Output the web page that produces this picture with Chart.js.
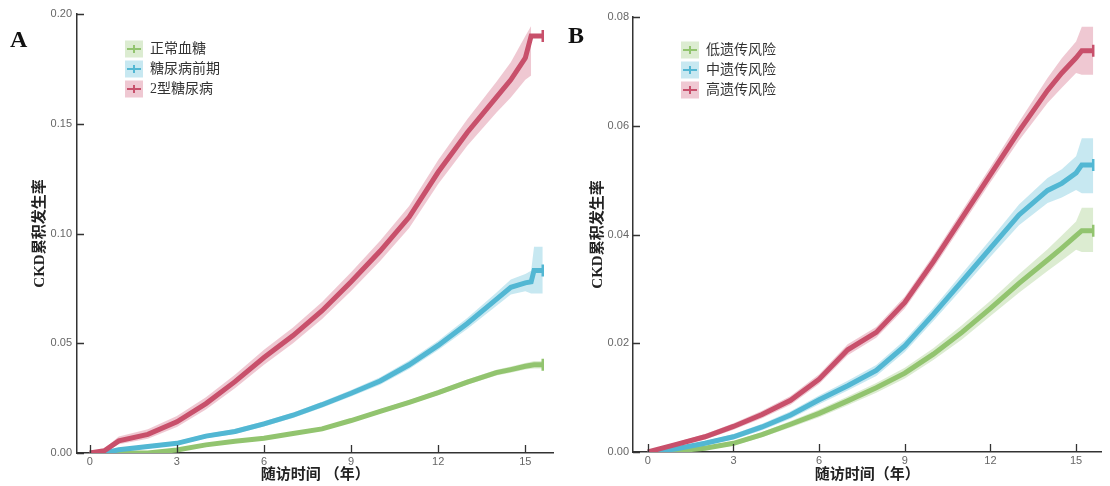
<!DOCTYPE html>
<html lang="zh">
<head>
    <meta charset="UTF-8">
    <title>CKD累积发生率</title>
    <script src="https://cdn.jsdelivr.net/npm/chart.js"></script>
    <style>
        body {
            margin: 0;
            background: #fff;
        }

        .wrap {
            position: relative;
            width: 1110px;
            height: 486px;
        }

        canvas {
            position: absolute;
            top: 0;
        }

        .panel-label {
            position: absolute;
            font-family: "Liberation Serif", "DejaVu Serif", serif;
            font-weight: bold;
            font-size: 24px;
            line-height: 24px;
            color: #111;
        }
    </style>
</head>
<body>
    <div class="wrap">
        <canvas id="chartA" width="562" height="486" style="left:0"></canvas>
        <canvas id="chartB" width="548" height="486" style="left:562px"></canvas>
        <div class="panel-label" style="left:10px; top:27px">A</div>
        <div class="panel-label" style="left:568px; top:23px">B</div>
    </div>

    <script>
        // ---- panel A: glycaemic status ----
        const timesA = [0, 0.5, 1, 2, 3, 4, 5, 6, 7, 8, 9, 10, 11, 12, 13, 14, 14.5, 15, 15.2, 15.3, 15.6];
        const labelsA = ['正常血糖', '糖尿病前期', '2型糖尿病'];

        const normalA   = [0, 0, 0, 0, 0.0014, 0.0037, 0.0054, 0.0067, 0.0089, 0.0110, 0.0148, 0.0190, 0.0231, 0.0275, 0.0323, 0.0366, 0.0380, 0.0395, 0.0400, 0.0402, 0.0402];
        const normalLoA = [0, 0, 0, 0, 0.0010, 0.0032, 0.0049, 0.0061, 0.0083, 0.0103, 0.0140, 0.0181, 0.0221, 0.0264, 0.0311, 0.0353, 0.0366, 0.0380, 0.0384, 0.0385, 0.0385];
        const normalHiA = [0, 0, 0, 0.0002, 0.0018, 0.0042, 0.0059, 0.0073, 0.0095, 0.0117, 0.0156, 0.0199, 0.0241, 0.0286, 0.0335, 0.0379, 0.0394, 0.0410, 0.0416, 0.0419, 0.0419];

        const preA   = [0, 0, 0.0015, 0.0030, 0.0044, 0.0077, 0.0098, 0.0133, 0.0172, 0.0220, 0.0272, 0.0328, 0.0402, 0.0490, 0.0590, 0.0700, 0.0755, 0.0775, 0.0780, 0.0832, 0.0832];
        const preLoA = [0, 0, 0.0008, 0.0021, 0.0035, 0.0067, 0.0087, 0.0121, 0.0159, 0.0206, 0.0257, 0.0311, 0.0383, 0.0469, 0.0565, 0.0670, 0.0722, 0.0737, 0.0727, 0.0727, 0.0727];
        const preHiA = [0, 0.0005, 0.0022, 0.0039, 0.0053, 0.0087, 0.0109, 0.0145, 0.0185, 0.0234, 0.0287, 0.0345, 0.0421, 0.0511, 0.0615, 0.0730, 0.0790, 0.0815, 0.0830, 0.0940, 0.0940];

        const t2dA   = [0, 0.0010, 0.0055, 0.0085, 0.0142, 0.0225, 0.0325, 0.0435, 0.0535, 0.0648, 0.0780, 0.0920, 0.1075, 0.1280, 0.1460, 0.1620, 0.1700, 0.1800, 0.1900, 0.1900, 0.1900];
        const t2dLoA = [0, 0, 0.0040, 0.0065, 0.0118, 0.0198, 0.0295, 0.0402, 0.0500, 0.0610, 0.0738, 0.0875, 0.1025, 0.1225, 0.1400, 0.1550, 0.1620, 0.1700, 0.1720, null, null];
        const t2dHiA = [0, 0.0020, 0.0075, 0.0108, 0.0168, 0.0254, 0.0357, 0.0470, 0.0572, 0.0688, 0.0824, 0.0967, 0.1125, 0.1335, 0.1520, 0.1690, 0.1780, 0.1900, 0.1945, null, null];

        // ---- panel B: genetic risk ----
        const timesB = [0, 0.5, 1, 2, 3, 4, 5, 6, 7, 8, 9, 10, 11, 12, 13, 14, 14.5, 15, 15.2, 15.6];
        const labelsB = ['低遗传风险', '中遗传风险', '高遗传风险'];

        const lowB   = [0, 0, 0.0002, 0.0007, 0.0016, 0.0032, 0.0051, 0.0071, 0.0094, 0.0118, 0.0145, 0.0180, 0.0220, 0.0264, 0.0310, 0.0353, 0.0375, 0.0398, 0.0407, 0.0407];
        const lowLoB = [0, 0, 0, 0.0004, 0.0012, 0.0027, 0.0045, 0.0064, 0.0086, 0.0109, 0.0135, 0.0169, 0.0207, 0.0250, 0.0293, 0.0333, 0.0352, 0.0372, 0.0368, 0.0368];
        const lowHiB = [0, 0.0001, 0.0004, 0.0010, 0.0020, 0.0037, 0.0057, 0.0078, 0.0102, 0.0127, 0.0155, 0.0191, 0.0233, 0.0278, 0.0327, 0.0373, 0.0398, 0.0424, 0.0449, 0.0449];

        const midB   = [0, 0.0002, 0.0006, 0.0016, 0.0028, 0.0046, 0.0068, 0.0096, 0.0122, 0.0150, 0.0195, 0.0253, 0.0314, 0.0375, 0.0436, 0.0481, 0.0494, 0.0513, 0.0528, 0.0528];
        const midLoB = [0, 0, 0.0003, 0.0012, 0.0023, 0.0040, 0.0061, 0.0088, 0.0113, 0.0140, 0.0184, 0.0241, 0.0300, 0.0359, 0.0417, 0.0458, 0.0468, 0.0482, 0.0476, 0.0476];
        const midHiB = [0, 0.0004, 0.0009, 0.0020, 0.0033, 0.0052, 0.0075, 0.0104, 0.0131, 0.0160, 0.0206, 0.0265, 0.0328, 0.0391, 0.0455, 0.0504, 0.0520, 0.0544, 0.0577, 0.0577];

        const highB   = [0, 0.0007, 0.0014, 0.0028, 0.0047, 0.0069, 0.0095, 0.0134, 0.0188, 0.0220, 0.0275, 0.0350, 0.0430, 0.0510, 0.0590, 0.0665, 0.0697, 0.0725, 0.0738, 0.0738];
        const highLoB = [0, 0.0004, 0.0010, 0.0023, 0.0041, 0.0062, 0.0087, 0.0125, 0.0178, 0.0210, 0.0264, 0.0338, 0.0417, 0.0496, 0.0573, 0.0642, 0.0670, 0.0697, 0.0694, 0.0694];
        const highHiB = [0, 0.0010, 0.0018, 0.0033, 0.0053, 0.0076, 0.0103, 0.0143, 0.0198, 0.0230, 0.0286, 0.0362, 0.0443, 0.0524, 0.0607, 0.0688, 0.0724, 0.0755, 0.0782, 0.0782];

        // ---- axes ----
        const xTicks = [0, 3, 6, 9, 12, 15];
        const yTicksA = [0, 0.05, 0.10, 0.15, 0.20];
        const yTicksB = [0, 0.02, 0.04, 0.06, 0.08];
        const yTitle = 'CKD累积发生率';

        const GREEN = { line: '#92C46F', band: 'rgba(146,196,111,0.32)' };
        const BLUE = { line: '#52B7D3', band: 'rgba(82,183,211,0.32)' };
        const RED = { line: '#C8506B', band: 'rgba(205,85,115,0.32)' };

        const pts = (times, vals) => times.map((t, i) => ({ x: t, y: vals[i] }));

        const buildDatasets = (times, groups) => {
            const ds = [];
            // confidence bands first (drawn underneath)
            groups.forEach(g => {
                const hiIdx = ds.length;
                ds.push({
                    data: pts(times, g.hi), borderColor: 'rgba(0,0,0,0)', borderWidth: 0,
                    pointRadius: 0, fill: false, order: 10
                });
                ds.push({
                    data: pts(times, g.lo), borderColor: 'rgba(0,0,0,0)', borderWidth: 0,
                    pointRadius: 0, backgroundColor: g.band, fill: { target: hiIdx }, order: 10
                });
            });
            groups.forEach((g, gi) => {
                ds.push({
                    label: g.label,
                    data: pts(times, g.est),
                    borderColor: g.line,
                    borderWidth: 5,
                    fill: false,
                    order: groups.length - gi,
                    pointStyle: 'line',
                    rotation: 90,
                    pointRadius: times.map((t, i) => i === times.length - 1 ? 6 : 0),
                    pointBorderWidth: 2.5,
                    pointBorderColor: g.line
                });
            });
            return ds;
        };

        // ticks drawn inward from the axis lines
        const insideTicks = {
            id: 'insideTicks',
            afterDraw(chart) {
                const { ctx, chartArea } = chart;
                const { x, y } = chart.scales;
                ctx.save();
                ctx.strokeStyle = '#333';
                ctx.lineWidth = 1.3;
                ctx.beginPath();
                x.ticks.forEach(t => {
                    const px = Math.round(x.getPixelForValue(t.value)) + 0.5;
                    ctx.moveTo(px, chartArea.bottom);
                    ctx.lineTo(px, chartArea.bottom - 8);
                });
                y.ticks.forEach(t => {
                    const py = Math.round(y.getPixelForValue(t.value)) + 0.5;
                    ctx.moveTo(chartArea.left, py);
                    ctx.lineTo(chartArea.left + 7, py);
                });
                ctx.stroke();
                ctx.restore();
            }
        };

        // legend placed inside the plot area
        const insideLegend = {
            id: 'insideLegend',
            afterDraw(chart, args, opts) {
                const ctx = chart.ctx;
                const lines = chart.data.datasets.filter(d => d.label);
                ctx.save();
                lines.forEach((d, i) => {
                    const cy = opts.top + i * opts.gap;
                    const lx = opts.left;
                    ctx.fillStyle = opts.bands[i];
                    ctx.fillRect(lx, cy - 8.5, 18, 17);
                    ctx.strokeStyle = d.borderColor;
                    ctx.lineWidth = 2;
                    ctx.beginPath();
                    ctx.moveTo(lx + 2, cy);
                    ctx.lineTo(lx + 16, cy);
                    ctx.moveTo(lx + 9, cy - 4);
                    ctx.lineTo(lx + 9, cy + 4);
                    ctx.stroke();
                    ctx.fillStyle = '#333';
                    ctx.font = '14px "Liberation Serif", "Noto Sans CJK SC", serif';
                    ctx.textBaseline = 'middle';
                    ctx.textAlign = 'left';
                    ctx.fillText(d.label, lx + 25, cy);
                });
                ctx.restore();
            }
        };

        const tickFont = { family: '"Liberation Sans", Arial, sans-serif', size: 11 };
        const titleFont = { family: '"Liberation Serif", "Noto Sans CJK SC", serif', size: 15, weight: 'bold' };

        const createChart = (id, cfg) => {
            return new Chart(document.getElementById(id), {
                type: 'line',
                data: { datasets: buildDatasets(cfg.times, cfg.groups) },
                options: {
                    responsive: false,
                    animation: false,
                    events: [],
                    devicePixelRatio: 1,
                    layout: { padding: { left: 0, right: cfg.padRight, top: cfg.padTop, bottom: 0 } },
                    elements: { line: { tension: 0 } },
                    plugins: {
                        legend: { display: false },
                        tooltip: { enabled: false },
                        insideLegend: { left: cfg.legendLeft, top: cfg.legendTop, gap: 20, bands: cfg.groups.map(g => g.band) }
                    },
                    scales: {
                        x: {
                            type: 'linear',
                            min: cfg.xMin,
                            max: cfg.xMax,
                            afterFit: s => { s.height = cfg.xHeight; },
                            afterBuildTicks: s => { s.ticks = xTicks.map(v => ({ value: v })); },
                            ticks: { font: tickFont, color: '#666', padding: 2, callback: v => String(v) },
                            grid: { drawOnChartArea: false, drawTicks: false },
                            border: { color: '#333', width: 1.5 },
                            title: { display: true, text: cfg.xTitle, font: titleFont, color: '#222', padding: { top: 0, bottom: 2 } }
                        },
                        y: {
                            type: 'linear',
                            min: cfg.yTicks[0],
                            max: cfg.yTicks[cfg.yTicks.length - 1],
                            afterFit: s => { s.width = cfg.yWidth; },
                            afterBuildTicks: s => { s.ticks = cfg.yTicks.map(v => ({ value: v })); },
                            ticks: { font: tickFont, color: '#666', padding: cfg.yPad, callback: v => v.toFixed(2) },
                            grid: { drawOnChartArea: false, drawTicks: false },
                            border: { color: '#333', width: 1.5 },
                            title: { display: true, text: yTitle, font: titleFont, color: '#222', padding: { top: cfg.yTitlePad, bottom: 0 } }
                        }
                    }
                },
                plugins: [insideTicks, insideLegend]
            });
        };

        createChart('chartA', {
            times: timesA,
            groups: [
                { label: labelsA[0], est: normalA, lo: normalLoA, hi: normalHiA, ...GREEN },
                { label: labelsA[1], est: preA, lo: preLoA, hi: preHiA, ...BLUE },
                { label: labelsA[2], est: t2dA, lo: t2dLoA, hi: t2dHiA, ...RED }
            ],
            yTicks: yTicksA,
            xMin: -0.44, xMax: 15.97,
            padTop: 14, padRight: 2,
            xHeight: 33, yWidth: 77, yPad: 5, yTitlePad: 31,
            xTitle: '随访时间 （年）',
            legendLeft: 125, legendTop: 49
        });

        createChart('chartB', {
            times: timesB,
            groups: [
                { label: labelsB[0], est: lowB, lo: lowLoB, hi: lowHiB, ...GREEN },
                { label: labelsB[1], est: midB, lo: midLoB, hi: midHiB, ...BLUE },
                { label: labelsB[2], est: highB, lo: highLoB, hi: highHiB, ...RED }
            ],
            yTicks: yTicksB,
            xMin: -0.52, xMax: 15.89,
            padTop: 17, padRight: 0,
            xHeight: 34, yWidth: 71, yPad: 4, yTitlePad: 27,
            xTitle: '随访时间（年）',
            legendLeft: 119, legendTop: 50
        });
    </script>
</body>
</html>
